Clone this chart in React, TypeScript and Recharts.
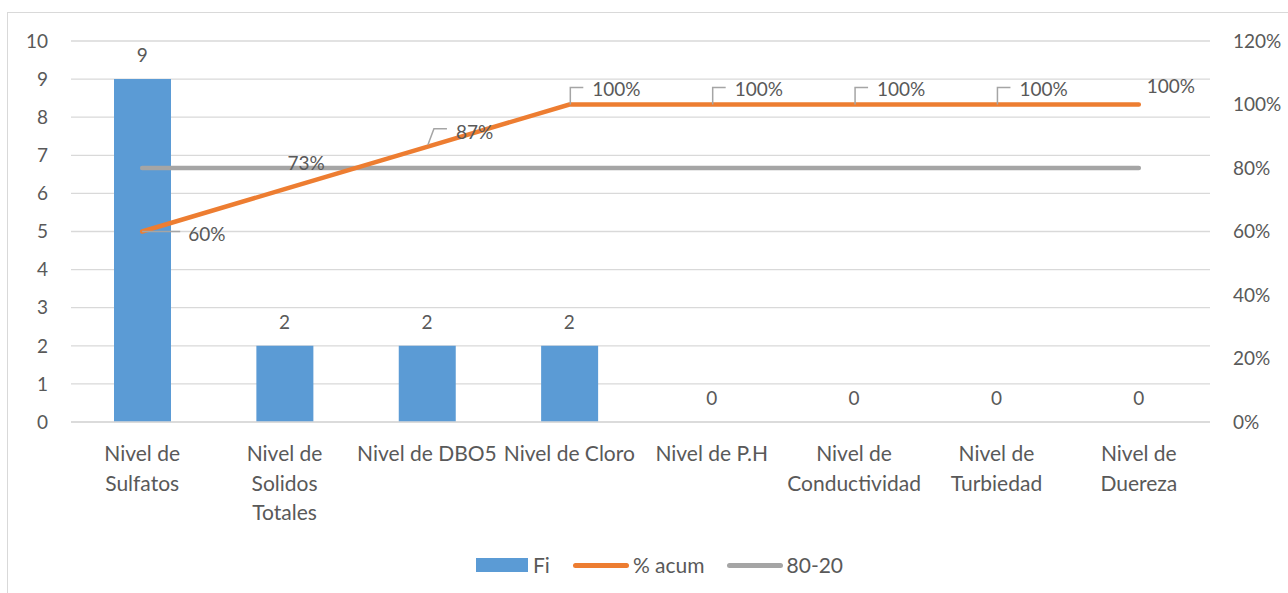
import { ComposedChart, Bar, Line, XAxis, YAxis, CartesianGrid, LabelList } from 'recharts'

const categories = [
  'Nivel de\nSulfatos',
  'Nivel de\nSolidos\nTotales',
  'Nivel de DBO5',
  'Nivel de Cloro',
  'Nivel de P.H',
  'Nivel de\nConductividad',
  'Nivel de\nTurbiedad',
  'Nivel de\nDuereza',
]
const fi = [9, 2, 2, 2, 0, 0, 0, 0]
const acum = [60, 73.33, 86.67, 100, 100, 100, 100, 100]
const pareto = [80, 80, 80, 80, 80, 80, 80, 80]
const leftTicks = [0, 1, 2, 3, 4, 5, 6, 7, 8, 9, 10]
const rightTicks = [0, 20, 40, 60, 80, 100, 120]

const chartData = categories.map((name, i) => ({
  name,
  fi: fi[i],
  acum: acum[i],
  pareto: pareto[i],
}))

const FONT = 'Lato, "Open Sans", sans-serif'
const TEXT = '#595959'
const BLUE = '#5B9BD5'
const ORANGE = '#ED7D31'
const GRAY = '#A5A5A5'

function CategoryTick({ x, y, payload }: any) {
  const lines = String(payload.value).split('\n')
  return (
    <text x={x} y={y + 31} textAnchor="middle" fill={TEXT} fontSize={21} fontFamily={FONT}>
      {lines.map((l, i) => (
        <tspan key={i} x={x} dy={i === 0 ? 0 : 29.5}>
          {l}
        </tspan>
      ))}
    </text>
  )
}

// bar value labels hang off an invisible line so the zero bars get one too
function BarValue({ x, y, value }: any) {
  return (
    <text x={x} y={y - 17} textAnchor="middle" fill={TEXT} fontSize={19} fontFamily={FONT}>
      {value}
    </text>
  )
}

// label placement mimics the Excel data-label callouts
function AcumLabel({ x, y, value, index }: any) {
  const txt = `${Math.round(value)}%`
  const common = { fill: TEXT, fontSize: 19, fontFamily: FONT, dominantBaseline: 'central' as const }
  if (index === 0) {
    return (
      <g>
        <line x1={x} y1={y} x2={x + 38} y2={y} stroke={GRAY} strokeWidth={1.5} />
        <text x={x + 46} y={y + 2} {...common}>{txt}</text>
      </g>
    )
  }
  if (index === 1) {
    return <text x={x + 3} y={y - 27} {...common}>{txt}</text>
  }
  if (index === 2) {
    return (
      <g>
        <polyline points={`${x + 1},${y - 2} ${x + 7},${y - 18} ${x + 20},${y - 18}`} fill="none" stroke={GRAY} strokeWidth={1.5} />
        <text x={x + 29} y={y - 15} {...common}>{txt}</text>
      </g>
    )
  }
  if (index === categories.length - 1) {
    return <text x={x + 8} y={y - 19} {...common}>{txt}</text>
  }
  return (
    <g>
      <polyline points={`${x + 1},${y} ${x + 1},${y - 17} ${x + 14},${y - 17}`} fill="none" stroke={GRAY} strokeWidth={1.5} />
      <text x={x + 23} y={y - 16} {...common}>{txt}</text>
    </g>
  )
}

function LegendRow() {
  const label = { fontSize: 21, lineHeight: '24px' }
  return (
    <div
      style={{
        position: 'absolute',
        top: 553,
        left: 476,
        display: 'flex',
        alignItems: 'center',
        fontFamily: FONT,
        color: TEXT,
      }}
    >
      <span style={{ width: 52, height: 14, background: BLUE, marginRight: 5 }} />
      <span style={label}>Fi</span>
      <span style={{ width: 56, height: 5, borderRadius: 3, background: ORANGE, marginLeft: 23, marginRight: 4 }} />
      <span style={label}>% acum</span>
      <span style={{ width: 56, height: 5, borderRadius: 3, background: GRAY, marginLeft: 22, marginRight: 4 }} />
      <span style={label}>80-20</span>
    </div>
  )
}

export default function App() {
  return (
    <div style={{ position: 'absolute', left: 0, top: 0, width: 1288, height: 593, background: '#fff', overflow: 'hidden' }}>
      <div
        style={{
          position: 'absolute',
          left: 7,
          top: 12,
          width: 1300,
          height: 620,
          border: '1px solid #d9d9d9',
        }}
      />
      <ComposedChart
        width={1288}
        height={593}
        data={chartData}
        margin={{ top: 41, right: 0, left: 0, bottom: 0 }}
        style={{ position: 'absolute', left: 0, top: 0 }}
      >
        <CartesianGrid yAxisId="left" vertical={false} stroke="#d9d9d9" strokeWidth={1.3} />
        <XAxis
          dataKey="name"
          height={171}
          interval={0}
          axisLine={{ stroke: '#d9d9d9', strokeWidth: 1.3 }}
          tickLine={false}
          tick={<CategoryTick />}
        />
        <YAxis
          yAxisId="left"
          domain={[0, 10]}
          ticks={leftTicks}
          width={71}
          axisLine={false}
          tickLine={false}
          tickSize={0}
          tickMargin={23}
          tick={{ fill: TEXT, fontSize: 19, fontFamily: FONT }}
        />
        <YAxis
          yAxisId="right"
          orientation="right"
          domain={[0, 120]}
          ticks={rightTicks}
          width={78}
          axisLine={false}
          tickLine={false}
          tickSize={0}
          tickMargin={23}
          tickFormatter={(v) => `${v}%`}
          tick={{ fill: TEXT, fontSize: 19, fontFamily: FONT, textAnchor: 'start' }}
        />
        <Bar yAxisId="left" dataKey="fi" fill={BLUE} barSize={57} isAnimationActive={false} />
        <Line
          yAxisId="left"
          dataKey="fi"
          stroke="none"
          dot={false}
          activeDot={false}
          legendType="none"
          isAnimationActive={false}
        >
          <LabelList dataKey="fi" content={<BarValue />} />
        </Line>
        <Line
          yAxisId="right"
          dataKey="pareto"
          stroke={GRAY}
          strokeWidth={4.5}
          strokeLinecap="round"
          dot={false}
          isAnimationActive={false}
        />
        <Line
          yAxisId="right"
          dataKey="acum"
          stroke={ORANGE}
          strokeWidth={4.5}
          strokeLinecap="round"
          dot={false}
          isAnimationActive={false}
        >
          <LabelList dataKey="acum" content={<AcumLabel />} />
        </Line>
      </ComposedChart>
      <LegendRow />
    </div>
  )
}
